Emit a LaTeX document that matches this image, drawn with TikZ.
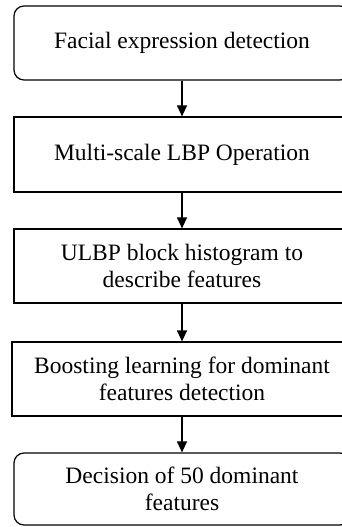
\documentclass[tikz,border=0pt]{standalone}
\usepackage{fontspec}
\setmainfont{Liberation Serif}
\usetikzlibrary{arrows.meta}
\begin{document}
\begin{tikzpicture}[x=1pt,y=1pt,
  box/.style={draw, line width=1.2pt, minimum width=336pt, inner sep=0pt, align=center,
    font=\fontsize{23.5}{26.5}\selectfont},
  rbox/.style={box, rounded corners=10pt},
  arr/.style={line width=1.2pt, -{Triangle[length=11pt,width=10pt]}}]
\useasboundingbox (0,0) rectangle (342,-527);
\node[rbox, minimum height=74pt] (b1) at (182,-43) {Facial expression detection};
\node[box, minimum height=75pt] (b2) at (182,-154.5) {Multi-scale LBP Operation};
\node[box, minimum height=74pt] (b3) at (182,-266) {ULBP block histogram to\\describe features};
\node[box, minimum height=74pt, minimum width=340pt] (b4) at (182,-379) {Boosting learning for dominant\\features detection};
\node[rbox, minimum height=72pt] (b5) at (182,-489) {Decision of 50 dominant\\features};
\draw[arr] (b1) -- (b2);
\draw[arr] (b2) -- (b3);
\draw[arr] (b3) -- (b4);
\draw[arr] (b4) -- (b5);
\end{tikzpicture}
\end{document}
